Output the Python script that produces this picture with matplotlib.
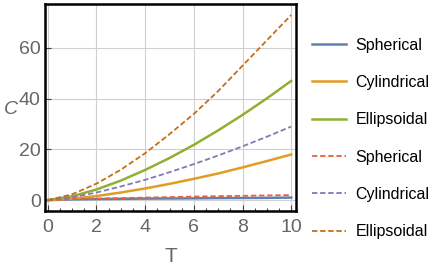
import matplotlib
matplotlib.use("Agg")
import matplotlib.pyplot as plt
from matplotlib.lines import Line2D

T = [0, 1, 2, 3, 4, 5, 6, 7, 8, 9, 10]
sph_solid = [0, 0.3, 0.4, 0.5, 0.6, 0.65, 0.7, 0.8, 0.85, 0.9, 1.0]
cyl_solid = [0, 0.6, 1.6, 3.0, 4.6, 6.4, 8.4, 10.5, 12.9, 15.4, 18]
ell_solid = [0, 1.5, 4.2, 7.7, 11.9, 16.6, 21.8, 27.5, 33.6, 40.1, 47]
sph_dash = [0, 0.4, 0.6, 0.8, 1.0, 1.2, 1.4, 1.55, 1.7, 1.85, 2.0]
cyl_dash = [0, 1.1, 3.0, 5.4, 8.0, 11.0, 14.2, 17.6, 21.2, 25, 29]
ell_dash = [0, 2.3, 6.5, 12, 18.5, 26, 34, 43, 53, 63, 73]
labels = ["Spherical", "Cylindrical", "Ellipsoidal", "Spherical", "Cylindrical", "Ellipsoidal"]
xticks = [0, 2, 4, 6, 8, 10]
yticks = [0, 20, 40, 60]

plt.rcParams['font.family'] = ['Liberation Sans', 'DejaVu Sans']
fig = plt.figure(figsize=(4.36, 2.73), dpi=100)
ax = fig.add_axes([0.103, 0.227, 0.576, 0.758])

series = [
    (sph_solid, '#5E81B5', '-'),
    (cyl_solid, '#E19C24', '-'),
    (ell_solid, '#8FB032', '-'),
    (sph_dash, '#EB6235', (0, (3, 1.5))),
    (cyl_dash, '#8778B3', (0, (3, 1.5))),
    (ell_dash, '#C56E1A', (0, (3, 1.5))),
]
handles = []
for (y, c, ls), lab in zip(series, labels):
    lw = 1.8 if ls == '-' else 1.3
    ax.plot(T, y, color=c, ls=ls, lw=lw)
    handles.append(Line2D([], [], color=c, ls=ls, lw=lw, label=lab))

ax.set_xlim(-0.12, 10.2)
ax.set_ylim(-4.3, 77.3)
ax.set_xticks(xticks)
ax.set_yticks(yticks)
ax.set_xticks([i * 0.5 for i in range(0, 21)], minor=True)
ax.grid(True, which='major', color='#d0d0d0', lw=0.8)
for s in ax.spines.values():
    s.set_linewidth(1.8)
    s.set_color('black')
ax.tick_params(which='both', direction='in', labelcolor='#666666', labelsize=14, length=4, width=0.8, color='#444444')
ax.tick_params(which='minor', length=2, left=False)
ax.tick_params(axis='x', pad=6)
ax.tick_params(axis='y', pad=3)
ax.set_xlabel('T', fontsize=15, color='#666666', labelpad=8)
ax.set_ylabel('C', fontsize=14, color='#666666', style='italic', rotation=0, va='center', ha='center')
ax.yaxis.set_label_coords(-0.135, 0.49)

fig.legend(handles=handles, loc='upper left', bbox_to_anchor=(0.683, 0.915), frameon=False,
           fontsize=11.5, handlelength=2.1, labelspacing=1.4, handletextpad=0.6,
           labelcolor='black')
fig.savefig('out.png', dpi=100)
